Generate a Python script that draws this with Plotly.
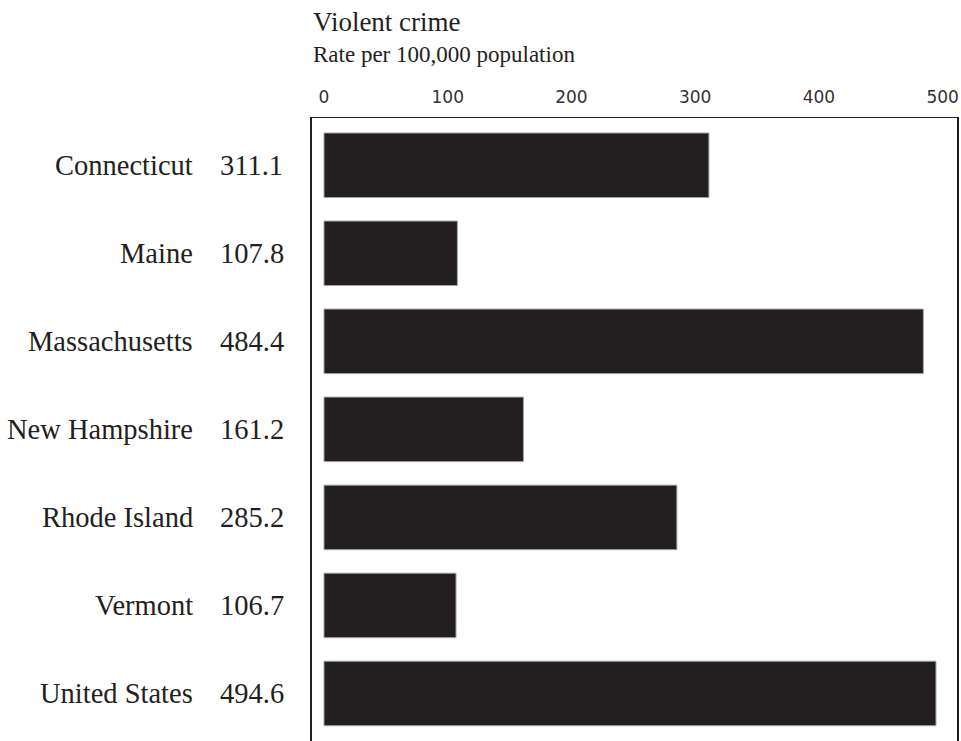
import plotly.graph_objects as go

states = ["Connecticut", "Maine", "Massachusetts", "New Hampshire", "Rhode Island", "Vermont", "United States"]
rates = [311.1, 107.8, 484.4, 161.2, 285.2, 106.7, 494.6]
rate_labels = ["311.1", "107.8", "484.4", "161.2", "285.2", "106.7", "494.6"]
tick_vals = [0, 100, 200, 300, 400, 500]
tick_text = ["0", "100", "200", "300", "400", "500"]

W, H = 961, 741
ML, MR, MT, MB = 312, 4, 118, 0
plot_h = H - MT - MB
plot_w = W - ML - MR

def py(p):  # pixel y -> paper y
    return (H - MB - p) / plot_h

def px(p):  # pixel x -> paper x
    return (p - ML) / plot_w

ink = "#231f20"
serif = "Liberation Serif"

fig = go.Figure(go.Bar(
    y=states, x=rates, orientation="h",
    marker=dict(color=ink, line=dict(color="#a3a3a3", width=1)),
    hoverinfo="skip",
))

annotations = []
for s, lab in zip(states, rate_labels):
    annotations.append(dict(x=px(195), y=s, xref="paper", yref="y", text=s,
                            xanchor="right", yanchor="middle", showarrow=False,
                            font=dict(family=serif, size=28.5, color=ink)))
    annotations.append(dict(x=px(218), y=s, xref="paper", yref="y", text=lab,
                            xanchor="left", yanchor="middle", showarrow=False,
                            font=dict(family=serif, size=28.5, color=ink)))

annotations.append(dict(x=px(311), y=py(22), xref="paper", yref="paper", text="Violent crime",
                        xanchor="left", yanchor="middle", showarrow=False,
                        font=dict(family=serif, size=27, color=ink)))
annotations.append(dict(x=px(311), y=py(54), xref="paper", yref="paper",
                        text="Rate per 100,000 population",
                        xanchor="left", yanchor="middle", showarrow=False,
                        font=dict(family=serif, size=23, color=ink)))

fig.update_layout(
    width=W, height=H,
    margin=dict(l=ML, r=MR, t=MT, b=MB, pad=0),
    paper_bgcolor="white", plot_bgcolor="white",
    showlegend=False,
    bargap=0.267,
    annotations=annotations,
    xaxis=dict(side="top", range=[-9.7, 511.6], tickvals=tick_vals, ticktext=tick_text,
               showgrid=False, zeroline=False, showline=True, linecolor=ink, linewidth=1,
               ticks="", ticklabelstandoff=7,
               tickfont=dict(family="DejaVu Sans", size=17, color="#333333")),
    yaxis=dict(range=[6.54, -0.537], showticklabels=False, showgrid=False, zeroline=False,
               showline=True, mirror=True, linecolor=ink, linewidth=2, ticks=""),
)

fig.write_html(
    "out.html",
    config={"displayModeBar": False},
    post_script="document.body.style.margin='0';document.body.style.overflow='hidden';",
)
